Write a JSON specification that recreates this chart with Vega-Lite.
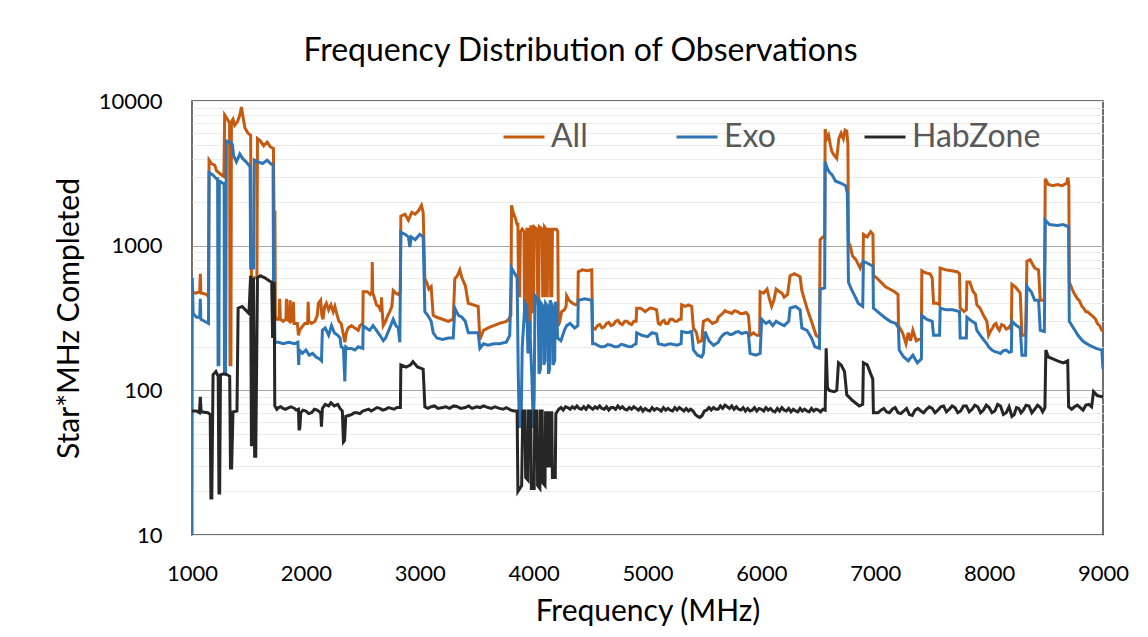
{
  "$schema": "https://vega.github.io/schema/vega-lite/v6.json",
  "width": 911,
  "height": 434,
  "autosize": {"type": "none"},
  "padding": {"left": 192, "top": 101, "right": 45, "bottom": 102},
  "background": "white",
  "config": {
    "font": "Lato",
    "view": {"stroke": "#404040", "strokeWidth": 1.5},
    "axis": {"labelFont": "Lato", "titleFont": "Lato", "labelColor": "#000000", "titleColor": "#000000", "titleFontWeight": "normal"}
  },
  "title": {"text": "Frequency Distribution of Observations", "font": "Lato", "fontSize": 32, "fontWeight": "normal", "color": "#000000", "anchor": "middle", "frame": "group", "dx": -67, "baseline": "alphabetic", "offset": -3},
  "datasets": {
    "all": [
      {"f":1000,"v":480},{"f":1030,"v":470},{"f":1068,"v":480},{"f":1073,"v":640},{"f":1078,"v":470},{"f":1110,"v":465},{"f":1130,"v":460},{"f":1145,"v":440},{"f":1150,"v":3900},{"f":1170,"v":3700},{"f":1200,"v":3600},{"f":1215,"v":3300},{"f":1255,"v":3100},{"f":1280,"v":3000},{"f":1287,"v":8000},{"f":1310,"v":7500},{"f":1330,"v":7000},{"f":1334,"v":150},{"f":1342,"v":150},{"f":1346,"v":7200},{"f":1360,"v":7500},{"f":1375,"v":6800},{"f":1400,"v":7200},{"f":1420,"v":8000},{"f":1434,"v":9100},{"f":1445,"v":8000},{"f":1465,"v":6500},{"f":1490,"v":6000},{"f":1515,"v":5800},{"f":1522,"v":600},{"f":1570,"v":600},{"f":1575,"v":5500},{"f":1600,"v":5300},{"f":1630,"v":4900},{"f":1660,"v":5200},{"f":1690,"v":4800},{"f":1715,"v":4700},{"f":1720,"v":1700},{"f":1728,"v":1700},{"f":1732,"v":330},{"f":1741,"v":310},{"f":1765,"v":310},{"f":1770,"v":430},{"f":1776,"v":310},{"f":1800,"v":300},{"f":1825,"v":310},{"f":1829,"v":430},{"f":1835,"v":310},{"f":1855,"v":300},{"f":1860,"v":420},{"f":1866,"v":300},{"f":1885,"v":300},{"f":1890,"v":410},{"f":1896,"v":290},{"f":1925,"v":290},{"f":1935,"v":240},{"f":1945,"v":260},{"f":1960,"v":270},{"f":1990,"v":290},{"f":2015,"v":290},{"f":2020,"v":410},{"f":2026,"v":300},{"f":2050,"v":290},{"f":2080,"v":300},{"f":2100,"v":330},{"f":2110,"v":400},{"f":2130,"v":420},{"f":2140,"v":330},{"f":2150,"v":310},{"f":2165,"v":380},{"f":2180,"v":400},{"f":2200,"v":360},{"f":2220,"v":390},{"f":2240,"v":350},{"f":2255,"v":380},{"f":2270,"v":340},{"f":2290,"v":300},{"f":2310,"v":290},{"f":2330,"v":240},{"f":2342,"v":215},{"f":2355,"v":250},{"f":2371,"v":270},{"f":2400,"v":280},{"f":2430,"v":270},{"f":2460,"v":260},{"f":2474,"v":280},{"f":2500,"v":290},{"f":2503,"v":480},{"f":2540,"v":480},{"f":2565,"v":460},{"f":2580,"v":480},{"f":2583,"v":770},{"f":2587,"v":470},{"f":2600,"v":440},{"f":2620,"v":390},{"f":2640,"v":380},{"f":2660,"v":350},{"f":2664,"v":440},{"f":2670,"v":360},{"f":2679,"v":280},{"f":2700,"v":300},{"f":2720,"v":330},{"f":2737,"v":350},{"f":2755,"v":380},{"f":2767,"v":490},{"f":2790,"v":470},{"f":2811,"v":460},{"f":2830,"v":480},{"f":2834,"v":1600},{"f":2870,"v":1650},{"f":2900,"v":1500},{"f":2930,"v":1700},{"f":2960,"v":1650},{"f":2990,"v":1750},{"f":3015,"v":1900},{"f":3030,"v":1700},{"f":3045,"v":590},{"f":3060,"v":560},{"f":3080,"v":500},{"f":3100,"v":520},{"f":3118,"v":330},{"f":3150,"v":320},{"f":3200,"v":310},{"f":3250,"v":300},{"f":3294,"v":310},{"f":3308,"v":590},{"f":3330,"v":620},{"f":3352,"v":680},{"f":3370,"v":600},{"f":3400,"v":530},{"f":3426,"v":400},{"f":3470,"v":390},{"f":3513,"v":380},{"f":3528,"v":225},{"f":3560,"v":260},{"f":3600,"v":270},{"f":3650,"v":280},{"f":3700,"v":290},{"f":3760,"v":300},{"f":3780,"v":310},{"f":3800,"v":330},{"f":3806,"v":1900},{"f":3820,"v":1700},{"f":3840,"v":1550},{"f":3855,"v":1400},{"f":3862,"v":1400},{"f":3868,"v":450},{"f":3878,"v":450},{"f":3884,"v":1250},{"f":3900,"v":1300},{"f":3915,"v":1250},{"f":3920,"v":300},{"f":3935,"v":300},{"f":3940,"v":1300},{"f":3955,"v":1300},{"f":3960,"v":250},{"f":3970,"v":250},{"f":3975,"v":1350},{"f":3985,"v":1350},{"f":3990,"v":350},{"f":4000,"v":350},{"f":4005,"v":1350},{"f":4030,"v":1300},{"f":4036,"v":400},{"f":4045,"v":400},{"f":4050,"v":1350},{"f":4075,"v":1300},{"f":4080,"v":450},{"f":4090,"v":450},{"f":4095,"v":1350},{"f":4110,"v":1300},{"f":4115,"v":450},{"f":4120,"v":450},{"f":4125,"v":1300},{"f":4145,"v":1300},{"f":4150,"v":450},{"f":4160,"v":450},{"f":4165,"v":1300},{"f":4200,"v":1300},{"f":4212,"v":1250},{"f":4217,"v":280},{"f":4230,"v":300},{"f":4246,"v":350},{"f":4270,"v":360},{"f":4285,"v":380},{"f":4290,"v":450},{"f":4310,"v":420},{"f":4340,"v":400},{"f":4370,"v":390},{"f":4388,"v":400},{"f":4392,"v":660},{"f":4430,"v":680},{"f":4470,"v":670},{"f":4510,"v":680},{"f":4518,"v":270},{"f":4540,"v":265},{"f":4560,"v":280},{"f":4580,"v":285},{"f":4600,"v":270},{"f":4620,"v":275},{"f":4640,"v":290},{"f":4660,"v":295},{"f":4680,"v":280},{"f":4700,"v":285},{"f":4720,"v":300},{"f":4740,"v":305},{"f":4760,"v":290},{"f":4780,"v":285},{"f":4800,"v":300},{"f":4820,"v":300},{"f":4840,"v":290},{"f":4860,"v":285},{"f":4880,"v":300},{"f":4900,"v":300},{"f":4905,"v":370},{"f":4940,"v":370},{"f":4980,"v":350},{"f":5020,"v":370},{"f":5040,"v":370},{"f":5080,"v":360},{"f":5095,"v":290},{"f":5110,"v":285},{"f":5130,"v":300},{"f":5145,"v":305},{"f":5160,"v":290},{"f":5180,"v":290},{"f":5200,"v":310},{"f":5220,"v":310},{"f":5240,"v":300},{"f":5260,"v":300},{"f":5280,"v":310},{"f":5295,"v":310},{"f":5300,"v":390},{"f":5330,"v":380},{"f":5360,"v":390},{"f":5388,"v":380},{"f":5403,"v":270},{"f":5430,"v":250},{"f":5447,"v":215},{"f":5476,"v":220},{"f":5491,"v":300},{"f":5530,"v":310},{"f":5570,"v":290},{"f":5610,"v":300},{"f":5622,"v":320},{"f":5640,"v":330},{"f":5660,"v":340},{"f":5680,"v":355},{"f":5696,"v":350},{"f":5720,"v":345},{"f":5740,"v":340},{"f":5765,"v":355},{"f":5790,"v":350},{"f":5815,"v":340},{"f":5840,"v":340},{"f":5865,"v":345},{"f":5886,"v":330},{"f":5901,"v":240},{"f":5930,"v":250},{"f":5960,"v":240},{"f":5985,"v":240},{"f":5989,"v":480},{"f":6020,"v":470},{"f":6050,"v":500},{"f":6070,"v":430},{"f":6090,"v":380},{"f":6110,"v":420},{"f":6130,"v":500},{"f":6160,"v":480},{"f":6180,"v":470},{"f":6200,"v":440},{"f":6230,"v":460},{"f":6252,"v":620},{"f":6290,"v":640},{"f":6340,"v":610},{"f":6355,"v":490},{"f":6400,"v":370},{"f":6440,"v":300},{"f":6480,"v":240},{"f":6510,"v":230},{"f":6516,"v":1100},{"f":6540,"v":1150},{"f":6556,"v":1150},{"f":6560,"v":6400},{"f":6575,"v":5500},{"f":6590,"v":5800},{"f":6605,"v":5000},{"f":6618,"v":4500},{"f":6640,"v":4200},{"f":6662,"v":4000},{"f":6680,"v":5500},{"f":6700,"v":6000},{"f":6720,"v":5500},{"f":6735,"v":6300},{"f":6750,"v":6200},{"f":6760,"v":5000},{"f":6765,"v":1050},{"f":6780,"v":1000},{"f":6800,"v":850},{"f":6830,"v":800},{"f":6867,"v":700},{"f":6880,"v":750},{"f":6893,"v":750},{"f":6896,"v":1200},{"f":6930,"v":1150},{"f":6960,"v":1250},{"f":6980,"v":1200},{"f":6984,"v":620},{"f":7010,"v":600},{"f":7050,"v":560},{"f":7090,"v":520},{"f":7130,"v":500},{"f":7170,"v":480},{"f":7200,"v":460},{"f":7204,"v":280},{"f":7240,"v":250},{"f":7270,"v":210},{"f":7290,"v":250},{"f":7310,"v":220},{"f":7330,"v":260},{"f":7360,"v":220},{"f":7405,"v":230},{"f":7409,"v":670},{"f":7440,"v":650},{"f":7480,"v":640},{"f":7500,"v":600},{"f":7512,"v":400},{"f":7540,"v":400},{"f":7565,"v":390},{"f":7570,"v":700},{"f":7620,"v":680},{"f":7670,"v":670},{"f":7720,"v":660},{"f":7740,"v":640},{"f":7746,"v":370},{"f":7780,"v":350},{"f":7800,"v":360},{"f":7805,"v":560},{"f":7830,"v":560},{"f":7860,"v":480},{"f":7880,"v":460},{"f":7892,"v":390},{"f":7920,"v":370},{"f":7950,"v":330},{"f":7980,"v":300},{"f":7995,"v":240},{"f":8010,"v":255},{"f":8030,"v":270},{"f":8045,"v":285},{"f":8060,"v":290},{"f":8075,"v":270},{"f":8090,"v":260},{"f":8110,"v":285},{"f":8130,"v":280},{"f":8150,"v":265},{"f":8170,"v":270},{"f":8185,"v":280},{"f":8195,"v":260},{"f":8200,"v":540},{"f":8230,"v":520},{"f":8273,"v":470},{"f":8288,"v":240},{"f":8320,"v":240},{"f":8332,"v":780},{"f":8360,"v":800},{"f":8400,"v":700},{"f":8434,"v":680},{"f":8449,"v":420},{"f":8485,"v":420},{"f":8493,"v":2900},{"f":8520,"v":2650},{"f":8560,"v":2600},{"f":8600,"v":2650},{"f":8640,"v":2600},{"f":8680,"v":2700},{"f":8692,"v":2950},{"f":8700,"v":2600},{"f":8704,"v":560},{"f":8730,"v":500},{"f":8745,"v":470},{"f":8760,"v":450},{"f":8775,"v":430},{"f":8790,"v":420},{"f":8815,"v":380},{"f":8830,"v":370},{"f":8850,"v":350},{"f":8865,"v":350},{"f":8880,"v":340},{"f":8900,"v":330},{"f":8920,"v":320},{"f":8935,"v":310},{"f":8950,"v":290},{"f":8970,"v":280},{"f":8990,"v":260},{"f":9000,"v":260}
    ],
    "exo": [
      {"f":1000,"v":10},{"f":1002,"v":600},{"f":1010,"v":340},{"f":1040,"v":320},{"f":1068,"v":320},{"f":1073,"v":430},{"f":1078,"v":310},{"f":1110,"v":300},{"f":1145,"v":290},{"f":1150,"v":3200},{"f":1180,"v":3100},{"f":1215,"v":2900},{"f":1225,"v":2900},{"f":1229,"v":150},{"f":1236,"v":150},{"f":1240,"v":2800},{"f":1270,"v":2700},{"f":1282,"v":2700},{"f":1285,"v":130},{"f":1295,"v":130},{"f":1302,"v":5300},{"f":1330,"v":5200},{"f":1355,"v":5000},{"f":1365,"v":4200},{"f":1390,"v":3800},{"f":1420,"v":4300},{"f":1445,"v":4000},{"f":1475,"v":3800},{"f":1500,"v":3600},{"f":1510,"v":3500},{"f":1515,"v":700},{"f":1540,"v":700},{"f":1548,"v":3900},{"f":1580,"v":3800},{"f":1620,"v":3700},{"f":1660,"v":3900},{"f":1690,"v":3700},{"f":1712,"v":3600},{"f":1716,"v":520},{"f":1722,"v":520},{"f":1728,"v":215},{"f":1760,"v":215},{"f":1800,"v":210},{"f":1850,"v":215},{"f":1900,"v":210},{"f":1930,"v":215},{"f":1937,"v":150},{"f":1942,"v":190},{"f":1970,"v":180},{"f":2000,"v":190},{"f":2030,"v":175},{"f":2060,"v":180},{"f":2090,"v":170},{"f":2120,"v":165},{"f":2137,"v":160},{"f":2145,"v":260},{"f":2170,"v":270},{"f":2200,"v":240},{"f":2225,"v":280},{"f":2250,"v":250},{"f":2280,"v":240},{"f":2300,"v":230},{"f":2310,"v":200},{"f":2330,"v":195},{"f":2342,"v":115},{"f":2350,"v":200},{"f":2370,"v":195},{"f":2400,"v":195},{"f":2430,"v":190},{"f":2460,"v":200},{"f":2500,"v":195},{"f":2503,"v":280},{"f":2530,"v":270},{"f":2560,"v":260},{"f":2590,"v":280},{"f":2620,"v":260},{"f":2650,"v":240},{"f":2680,"v":220},{"f":2700,"v":230},{"f":2737,"v":270},{"f":2767,"v":310},{"f":2790,"v":280},{"f":2811,"v":270},{"f":2825,"v":215},{"f":2834,"v":1240},{"f":2870,"v":1200},{"f":2900,"v":1150},{"f":2913,"v":980},{"f":2925,"v":1150},{"f":2960,"v":1100},{"f":3000,"v":1200},{"f":3030,"v":1150},{"f":3045,"v":350},{"f":3070,"v":330},{"f":3100,"v":300},{"f":3118,"v":250},{"f":3150,"v":230},{"f":3200,"v":225},{"f":3250,"v":230},{"f":3294,"v":230},{"f":3308,"v":370},{"f":3340,"v":330},{"f":3370,"v":320},{"f":3400,"v":300},{"f":3426,"v":250},{"f":3470,"v":250},{"f":3513,"v":250},{"f":3528,"v":195},{"f":3560,"v":210},{"f":3600,"v":205},{"f":3650,"v":210},{"f":3700,"v":210},{"f":3760,"v":215},{"f":3790,"v":240},{"f":3806,"v":700},{"f":3830,"v":650},{"f":3855,"v":600},{"f":3865,"v":130},{"f":3875,"v":55},{"f":3890,"v":60},{"f":3900,"v":200},{"f":3924,"v":400},{"f":3940,"v":380},{"f":3950,"v":180},{"f":3965,"v":300},{"f":3985,"v":120},{"f":3997,"v":55},{"f":4005,"v":90},{"f":4012,"v":450},{"f":4040,"v":420},{"f":4047,"v":130},{"f":4060,"v":140},{"f":4065,"v":400},{"f":4085,"v":380},{"f":4090,"v":150},{"f":4100,"v":160},{"f":4105,"v":400},{"f":4125,"v":380},{"f":4130,"v":130},{"f":4140,"v":140},{"f":4145,"v":420},{"f":4165,"v":380},{"f":4170,"v":150},{"f":4185,"v":160},{"f":4190,"v":400},{"f":4202,"v":400},{"f":4210,"v":230},{"f":4240,"v":220},{"f":4270,"v":260},{"f":4290,"v":280},{"f":4320,"v":290},{"f":4360,"v":270},{"f":4388,"v":280},{"f":4392,"v":420},{"f":4450,"v":430},{"f":4510,"v":420},{"f":4518,"v":210},{"f":4540,"v":210},{"f":4560,"v":205},{"f":4590,"v":200},{"f":4620,"v":200},{"f":4650,"v":207},{"f":4680,"v":205},{"f":4710,"v":200},{"f":4740,"v":200},{"f":4770,"v":208},{"f":4800,"v":205},{"f":4830,"v":201},{"f":4860,"v":200},{"f":4880,"v":206},{"f":4900,"v":210},{"f":4905,"v":250},{"f":4950,"v":240},{"f":5000,"v":235},{"f":5040,"v":250},{"f":5080,"v":245},{"f":5095,"v":210},{"f":5150,"v":205},{"f":5200,"v":210},{"f":5260,"v":205},{"f":5295,"v":210},{"f":5300,"v":255},{"f":5350,"v":250},{"f":5388,"v":255},{"f":5403,"v":190},{"f":5440,"v":175},{"f":5476,"v":170},{"f":5491,"v":180},{"f":5505,"v":255},{"f":5540,"v":220},{"f":5580,"v":205},{"f":5622,"v":215},{"f":5640,"v":230},{"f":5660,"v":240},{"f":5680,"v":248},{"f":5700,"v":250},{"f":5725,"v":243},{"f":5750,"v":245},{"f":5775,"v":252},{"f":5800,"v":255},{"f":5825,"v":247},{"f":5850,"v":250},{"f":5870,"v":252},{"f":5886,"v":245},{"f":5901,"v":180},{"f":5950,"v":175},{"f":5989,"v":180},{"f":6003,"v":310},{"f":6040,"v":290},{"f":6070,"v":300},{"f":6100,"v":280},{"f":6130,"v":300},{"f":6160,"v":290},{"f":6200,"v":280},{"f":6240,"v":300},{"f":6252,"v":370},{"f":6300,"v":380},{"f":6340,"v":360},{"f":6355,"v":270},{"f":6400,"v":260},{"f":6440,"v":230},{"f":6470,"v":200},{"f":6510,"v":195},{"f":6516,"v":500},{"f":6556,"v":510},{"f":6560,"v":3800},{"f":6580,"v":3400},{"f":6600,"v":3200},{"f":6620,"v":3100},{"f":6650,"v":2800},{"f":6700,"v":2700},{"f":6740,"v":2600},{"f":6755,"v":2300},{"f":6765,"v":560},{"f":6790,"v":500},{"f":6820,"v":450},{"f":6850,"v":400},{"f":6890,"v":380},{"f":6896,"v":780},{"f":6940,"v":750},{"f":6980,"v":720},{"f":6984,"v":370},{"f":7020,"v":350},{"f":7080,"v":320},{"f":7130,"v":300},{"f":7180,"v":290},{"f":7204,"v":270},{"f":7210,"v":190},{"f":7250,"v":170},{"f":7290,"v":160},{"f":7330,"v":175},{"f":7370,"v":155},{"f":7405,"v":165},{"f":7409,"v":330},{"f":7450,"v":310},{"f":7500,"v":300},{"f":7512,"v":240},{"f":7565,"v":240},{"f":7570,"v":370},{"f":7620,"v":360},{"f":7680,"v":360},{"f":7740,"v":350},{"f":7746,"v":230},{"f":7800,"v":230},{"f":7805,"v":320},{"f":7850,"v":300},{"f":7880,"v":290},{"f":7892,"v":260},{"f":7940,"v":230},{"f":7980,"v":210},{"f":7995,"v":200},{"f":8025,"v":190},{"f":8050,"v":185},{"f":8075,"v":183},{"f":8100,"v":180},{"f":8125,"v":188},{"f":8150,"v":190},{"f":8175,"v":183},{"f":8195,"v":185},{"f":8200,"v":300},{"f":8240,"v":280},{"f":8273,"v":270},{"f":8288,"v":175},{"f":8320,"v":175},{"f":8332,"v":520},{"f":8370,"v":480},{"f":8400,"v":420},{"f":8434,"v":420},{"f":8449,"v":260},{"f":8485,"v":255},{"f":8493,"v":1500},{"f":8530,"v":1400},{"f":8600,"v":1380},{"f":8650,"v":1400},{"f":8698,"v":1350},{"f":8704,"v":300},{"f":8740,"v":270},{"f":8760,"v":255},{"f":8780,"v":240},{"f":8800,"v":230},{"f":8820,"v":220},{"f":8850,"v":212},{"f":8880,"v":205},{"f":8910,"v":200},{"f":8940,"v":195},{"f":8965,"v":192},{"f":8990,"v":190},{"f":9000,"v":140}
    ],
    "hab": [
      {"f":1000,"v":72},{"f":1040,"v":72},{"f":1065,"v":70},{"f":1073,"v":90},{"f":1080,"v":71},{"f":1140,"v":70},{"f":1160,"v":68},{"f":1166,"v":18},{"f":1174,"v":18},{"f":1185,"v":128},{"f":1210,"v":135},{"f":1230,"v":125},{"f":1237,"v":19.5},{"f":1243,"v":19.5},{"f":1250,"v":128},{"f":1280,"v":130},{"f":1310,"v":128},{"f":1331,"v":125},{"f":1338,"v":29},{"f":1348,"v":29},{"f":1360,"v":71},{"f":1395,"v":72},{"f":1405,"v":370},{"f":1440,"v":380},{"f":1470,"v":360},{"f":1500,"v":340},{"f":1515,"v":620},{"f":1522,"v":42},{"f":1530,"v":42},{"f":1540,"v":600},{"f":1550,"v":35},{"f":1560,"v":35},{"f":1575,"v":600},{"f":1600,"v":620},{"f":1640,"v":600},{"f":1680,"v":570},{"f":1700,"v":560},{"f":1708,"v":230},{"f":1716,"v":540},{"f":1722,"v":560},{"f":1727,"v":78},{"f":1745,"v":74},{"f":1760,"v":76},{"f":1780,"v":77},{"f":1800,"v":75},{"f":1820,"v":74},{"f":1850,"v":76},{"f":1870,"v":77},{"f":1900,"v":75},{"f":1915,"v":73},{"f":1935,"v":74},{"f":1940,"v":53},{"f":1947,"v":55},{"f":1955,"v":70},{"f":1975,"v":73},{"f":2000,"v":72},{"f":2025,"v":69},{"f":2050,"v":70},{"f":2075,"v":74},{"f":2100,"v":73},{"f":2130,"v":70},{"f":2137,"v":56},{"f":2145,"v":75},{"f":2170,"v":80},{"f":2200,"v":78},{"f":2220,"v":82},{"f":2250,"v":78},{"f":2280,"v":80},{"f":2300,"v":75},{"f":2320,"v":72},{"f":2330,"v":44},{"f":2340,"v":45},{"f":2350,"v":66},{"f":2375,"v":67},{"f":2400,"v":68},{"f":2425,"v":70},{"f":2450,"v":70},{"f":2475,"v":69},{"f":2500,"v":72},{"f":2525,"v":73},{"f":2550,"v":74},{"f":2575,"v":72},{"f":2600,"v":74},{"f":2625,"v":76},{"f":2650,"v":75},{"f":2675,"v":73},{"f":2700,"v":74},{"f":2725,"v":76},{"f":2750,"v":75},{"f":2775,"v":74},{"f":2800,"v":76},{"f":2830,"v":76},{"f":2834,"v":150},{"f":2880,"v":145},{"f":2920,"v":150},{"f":2940,"v":158},{"f":2980,"v":145},{"f":3030,"v":140},{"f":3045,"v":77},{"f":3070,"v":75},{"f":3100,"v":77},{"f":3130,"v":78},{"f":3160,"v":75},{"f":3200,"v":76},{"f":3230,"v":77},{"f":3260,"v":75},{"f":3300,"v":78},{"f":3330,"v":77},{"f":3360,"v":75},{"f":3400,"v":76},{"f":3430,"v":78},{"f":3460,"v":75},{"f":3500,"v":77},{"f":3530,"v":76},{"f":3560,"v":78},{"f":3600,"v":76},{"f":3630,"v":75},{"f":3660,"v":77},{"f":3700,"v":75},{"f":3730,"v":74},{"f":3760,"v":76},{"f":3800,"v":73},{"f":3830,"v":72},{"f":3855,"v":72},{"f":3862,"v":20},{"f":3895,"v":22},{"f":3905,"v":72},{"f":3925,"v":72},{"f":3930,"v":25},{"f":3950,"v":24},{"f":3955,"v":72},{"f":3975,"v":72},{"f":3980,"v":21},{"f":4005,"v":21},{"f":4010,"v":72},{"f":4030,"v":72},{"f":4035,"v":22},{"f":4055,"v":21},{"f":4060,"v":72},{"f":4075,"v":72},{"f":4080,"v":23},{"f":4100,"v":22},{"f":4105,"v":70},{"f":4120,"v":70},{"f":4125,"v":30},{"f":4140,"v":30},{"f":4145,"v":70},{"f":4160,"v":70},{"f":4165,"v":25},{"f":4190,"v":25},{"f":4195,"v":69},{"f":4220,"v":74},{"f":4240,"v":76},{"f":4260,"v":73},{"f":4280,"v":77},{"f":4300,"v":76},{"f":4320,"v":74},{"f":4340,"v":77},{"f":4360,"v":75},{"f":4380,"v":78},{"f":4400,"v":75},{"f":4420,"v":74},{"f":4440,"v":77},{"f":4460,"v":74},{"f":4480,"v":78},{"f":4500,"v":76},{"f":4520,"v":74},{"f":4540,"v":77},{"f":4560,"v":75},{"f":4580,"v":78},{"f":4600,"v":75},{"f":4620,"v":74},{"f":4640,"v":77},{"f":4660,"v":73},{"f":4680,"v":76},{"f":4700,"v":76},{"f":4720,"v":74},{"f":4740,"v":78},{"f":4760,"v":75},{"f":4780,"v":77},{"f":4800,"v":74},{"f":4820,"v":73},{"f":4840,"v":76},{"f":4860,"v":74},{"f":4880,"v":77},{"f":4900,"v":75},{"f":4920,"v":73},{"f":4940,"v":76},{"f":4960,"v":72},{"f":4980,"v":75},{"f":5000,"v":73},{"f":5020,"v":72},{"f":5040,"v":76},{"f":5060,"v":73},{"f":5080,"v":75},{"f":5100,"v":74},{"f":5120,"v":72},{"f":5140,"v":76},{"f":5160,"v":73},{"f":5180,"v":75},{"f":5200,"v":73},{"f":5220,"v":72},{"f":5240,"v":76},{"f":5260,"v":73},{"f":5280,"v":76},{"f":5300,"v":74},{"f":5320,"v":72},{"f":5340,"v":75},{"f":5360,"v":72},{"f":5380,"v":74},{"f":5400,"v":72},{"f":5420,"v":68},{"f":5440,"v":66},{"f":5460,"v":65},{"f":5480,"v":67},{"f":5500,"v":72},{"f":5520,"v":73},{"f":5540,"v":76},{"f":5560,"v":73},{"f":5580,"v":76},{"f":5600,"v":74},{"f":5620,"v":74},{"f":5640,"v":78},{"f":5660,"v":75},{"f":5680,"v":79},{"f":5700,"v":77},{"f":5720,"v":75},{"f":5740,"v":78},{"f":5760,"v":74},{"f":5780,"v":77},{"f":5800,"v":74},{"f":5820,"v":73},{"f":5840,"v":76},{"f":5860,"v":72},{"f":5880,"v":75},{"f":5900,"v":72},{"f":5920,"v":73},{"f":5940,"v":76},{"f":5960,"v":72},{"f":5980,"v":75},{"f":6000,"v":74},{"f":6020,"v":72},{"f":6040,"v":76},{"f":6060,"v":73},{"f":6080,"v":75},{"f":6100,"v":72},{"f":6120,"v":71},{"f":6140,"v":75},{"f":6160,"v":72},{"f":6180,"v":76},{"f":6200,"v":73},{"f":6220,"v":72},{"f":6240,"v":75},{"f":6260,"v":71},{"f":6280,"v":74},{"f":6300,"v":72},{"f":6320,"v":71},{"f":6340,"v":75},{"f":6360,"v":72},{"f":6380,"v":74},{"f":6400,"v":72},{"f":6420,"v":71},{"f":6440,"v":75},{"f":6460,"v":72},{"f":6480,"v":74},{"f":6500,"v":73},{"f":6520,"v":71},{"f":6540,"v":74},{"f":6560,"v":73},{"f":6569,"v":195},{"f":6580,"v":105},{"f":6595,"v":100},{"f":6640,"v":98},{"f":6662,"v":100},{"f":6677,"v":155},{"f":6700,"v":150},{"f":6730,"v":135},{"f":6750,"v":93},{"f":6800,"v":85},{"f":6860,"v":78},{"f":6890,"v":80},{"f":6896,"v":155},{"f":6930,"v":150},{"f":6960,"v":130},{"f":6978,"v":120},{"f":6984,"v":70},{"f":7025,"v":70},{"f":7050,"v":73},{"f":7075,"v":75},{"f":7100,"v":71},{"f":7125,"v":70},{"f":7150,"v":74},{"f":7175,"v":76},{"f":7200,"v":70},{"f":7225,"v":69},{"f":7250,"v":72},{"f":7275,"v":75},{"f":7300,"v":68},{"f":7325,"v":67},{"f":7350,"v":73},{"f":7375,"v":75},{"f":7400,"v":72},{"f":7425,"v":70},{"f":7450,"v":74},{"f":7475,"v":77},{"f":7500,"v":75},{"f":7525,"v":70},{"f":7550,"v":73},{"f":7575,"v":77},{"f":7600,"v":78},{"f":7625,"v":71},{"f":7650,"v":74},{"f":7675,"v":78},{"f":7700,"v":76},{"f":7725,"v":70},{"f":7750,"v":72},{"f":7775,"v":78},{"f":7800,"v":78},{"f":7825,"v":71},{"f":7850,"v":74},{"f":7875,"v":79},{"f":7900,"v":77},{"f":7925,"v":70},{"f":7950,"v":73},{"f":7975,"v":79},{"f":8000,"v":76},{"f":8025,"v":70},{"f":8050,"v":72},{"f":8075,"v":80},{"f":8100,"v":78},{"f":8125,"v":68},{"f":8150,"v":70},{"f":8175,"v":77},{"f":8200,"v":66},{"f":8220,"v":68},{"f":8240,"v":76},{"f":8260,"v":75},{"f":8280,"v":70},{"f":8300,"v":73},{"f":8325,"v":79},{"f":8350,"v":78},{"f":8375,"v":70},{"f":8400,"v":74},{"f":8425,"v":79},{"f":8450,"v":76},{"f":8470,"v":71},{"f":8490,"v":76},{"f":8498,"v":190},{"f":8520,"v":170},{"f":8560,"v":165},{"f":8600,"v":160},{"f":8650,"v":155},{"f":8690,"v":160},{"f":8698,"v":77},{"f":8725,"v":74},{"f":8750,"v":77},{"f":8775,"v":79},{"f":8800,"v":76},{"f":8825,"v":73},{"f":8850,"v":79},{"f":8875,"v":80},{"f":8900,"v":77},{"f":8917,"v":98},{"f":8950,"v":92},{"f":9000,"v":90}
    ]
  },
  "encoding": {
    "x": {
      "field": "f", "type": "quantitative",
      "scale": {"domain": [1000, 9000], "nice": false, "zero": false},
      "axis": {"title": "Frequency (MHz)", "titleFontSize": 30, "titlePadding": 12, "values": [1000,2000,3000,4000,5000,6000,7000,8000,9000], "format": "d", "labelFontSize": 22, "labelPadding": 28, "ticks": false, "domain": false, "grid": false, "labelFlush": false, "labelOverlap": false}
    },
    "y": {
      "field": "v", "type": "quantitative",
      "scale": {"type": "log", "domain": [10, 10000], "nice": false},
      "axis": {
        "title": "Star*MHz Completed", "titleFontSize": 30, "titlePadding": 14,
        "values": [10,20,30,40,50,60,70,80,90,100,200,300,400,500,600,700,800,900,1000,2000,3000,4000,5000,6000,7000,8000,9000,10000],
        "format": "d",
        "labelExpr": "(datum.value == 10 || datum.value == 100 || datum.value == 1000 || datum.value == 10000) ? datum.label : ''",
        "labelFontSize": 22, "labelPadding": 30, "ticks": false, "domain": false, "labelOverlap": false, "labelFlush": false,
        "grid": true,
        "gridColor": {"condition": {"test": "datum.value == 100 || datum.value == 1000", "value": "#a6a6a6"}, "value": "#ececec"},
        "gridWidth": 1
      }
    }
  },
  "layer": [
    {
      "data": {"name": "all"},
      "mark": {"type": "line", "strokeWidth": 3, "clip": true},
      "encoding": {
        "color": {
          "datum": "All", "type": "nominal",
          "scale": {"domain": ["All", "Exo", "HabZone"], "range": ["#c55a11", "#2e75b6", "#262626"]},
          "legend": {"title": null, "orient": "none", "legendX": 310, "legendY": 14, "direction": "horizontal", "symbolType": "stroke", "symbolSize": 1681, "symbolStrokeWidth": 3, "labelFont": "Lato", "labelFontSize": 32, "labelColor": "#595959", "labelOffset": 5, "columnPadding": 82, "labelLimit": 300}
        }
      }
    },
    {
      "data": {"name": "exo"},
      "mark": {"type": "line", "strokeWidth": 3, "clip": true},
      "encoding": {"color": {"datum": "Exo", "type": "nominal"}}
    },
    {
      "data": {"name": "hab"},
      "mark": {"type": "line", "strokeWidth": 3, "clip": true},
      "encoding": {"color": {"datum": "HabZone", "type": "nominal"}}
    }
  ]
}
